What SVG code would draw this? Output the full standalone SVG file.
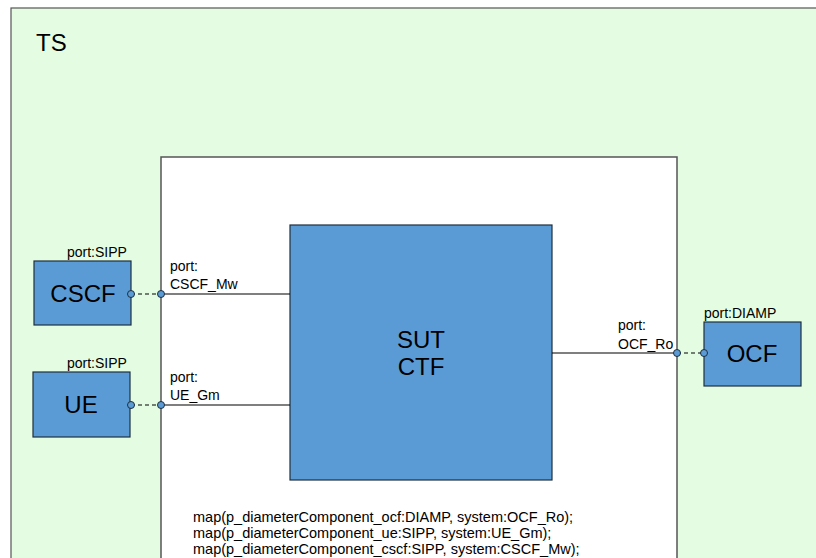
<svg xmlns="http://www.w3.org/2000/svg" width="816" height="558" viewBox="0 0 816 558">
<style>
.t{font-family:"Liberation Sans",Arial,sans-serif;fill:#000}
.big{font-size:24px}
.sm{font-size:14px}
.mp{font-size:14.5px}
.box{fill:#5b9bd5;stroke:#1f2f3f;stroke-width:1.2}
.port{fill:#5b9bd5;stroke:#1f2f3f;stroke-width:1}
.ln{stroke:#000;stroke-width:1.2;fill:none}
.dl{stroke:#000;stroke-width:1.2;stroke-dasharray:4,3;fill:none}
</style>
<g id="TS">
<rect x="11" y="8" width="820" height="570" fill="#e4fde2" stroke="#555" stroke-width="1.2"/>
<text class="t big" x="36" y="51">TS</text>
</g>
<g id="system">
<rect x="161" y="157" width="516" height="420" fill="#fff" stroke="#555" stroke-width="1.5"/>
</g>
<g id="SUT">
<rect class="box" x="290" y="225" width="262" height="255"/>
<text class="t big" x="421" y="348" text-anchor="middle">SUT</text>
<text class="t big" x="421" y="375" text-anchor="middle">CTF</text>
</g>
<g id="CSCF">
<rect class="box" x="34" y="261" width="97" height="64"/>
<text class="t big" x="83" y="302" text-anchor="middle">CSCF</text>
<text class="t sm" x="67" y="257">port:SIPP</text>
</g>
<g id="UE">
<rect class="box" x="33" y="372" width="97" height="65"/>
<text class="t big" x="81" y="413" text-anchor="middle">UE</text>
<text class="t sm" x="67" y="368">port:SIPP</text>
</g>
<g id="OCF">
<rect class="box" x="704" y="322" width="97" height="64"/>
<text class="t big" x="752" y="362" text-anchor="middle">OCF</text>
<text class="t sm" x="704" y="318">port:DIAMP</text>
</g>
<g id="connectors">
<line class="dl" x1="131" y1="294" x2="161" y2="294"/>
<line class="ln" x1="161" y1="294" x2="290" y2="294"/>
<line class="dl" x1="131" y1="405" x2="161" y2="405"/>
<line class="ln" x1="161" y1="405" x2="290" y2="405"/>
<line class="ln" x1="552" y1="353" x2="677" y2="353"/>
<line class="dl" x1="677" y1="353" x2="704" y2="353"/>
<circle class="port" cx="131" cy="294" r="3.5"/>
<circle class="port" cx="161" cy="294" r="3.5"/>
<circle class="port" cx="131" cy="405" r="3.5"/>
<circle class="port" cx="161" cy="405" r="3.5"/>
<circle class="port" cx="677" cy="353" r="3.5"/>
<circle class="port" cx="704" cy="353" r="3.5"/>
<text class="t sm" x="170" y="271">port:</text>
<text class="t sm" x="170" y="289">CSCF_Mw</text>
<text class="t sm" x="170" y="382">port:</text>
<text class="t sm" x="170" y="400">UE_Gm</text>
<text class="t sm" x="618" y="330">port:</text>
<text class="t sm" x="618" y="349">OCF_Ro</text>
</g>
<g id="mapText">
<text class="t mp" x="193" y="522">map(p_diameterComponent_ocf:DIAMP, system:OCF_Ro);</text>
<text class="t mp" x="193" y="538">map(p_diameterComponent_ue:SIPP, system:UE_Gm);</text>
<text class="t mp" x="193" y="554">map(p_diameterComponent_cscf:SIPP, system:CSCF_Mw);</text>
</g>
</svg>
